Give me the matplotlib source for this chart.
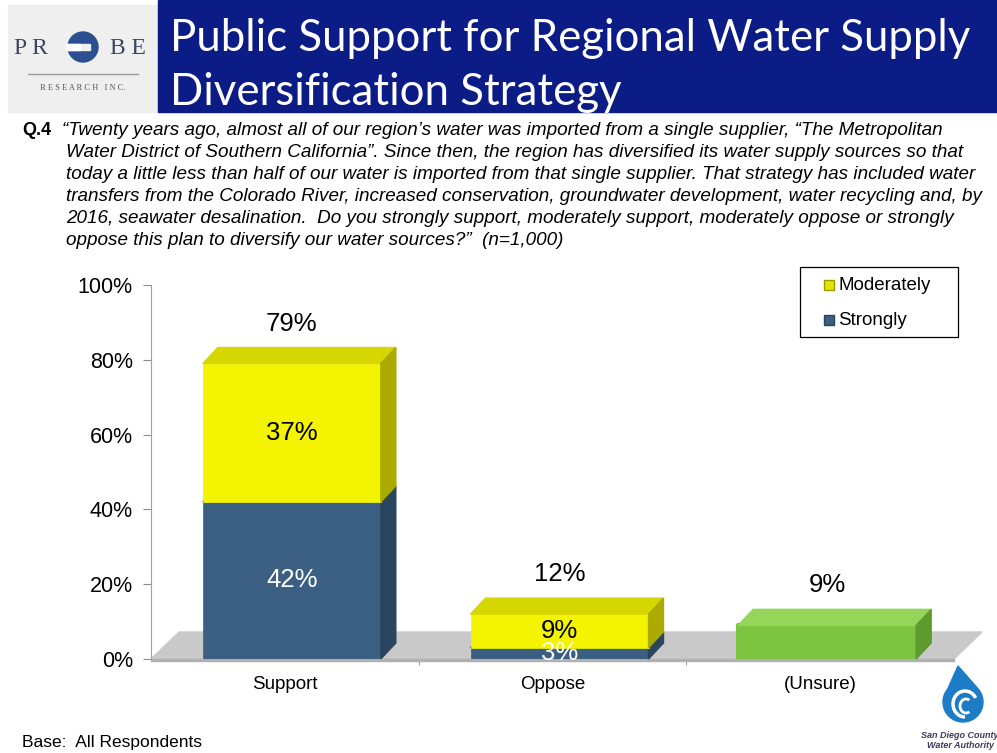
import numpy as np
import matplotlib
matplotlib.use("Agg")
import matplotlib.pyplot as plt
from matplotlib.patches import Polygon, Rectangle, Circle, Arc

plt.rcParams['font.family'] = ['Liberation Sans', 'DejaVu Sans']

# survey results (percent of respondents)
categories = ['Support', 'Oppose', '(Unsure)']
strongly = [42, 3, 0]
moderately = [37, 9, 0]
unsure = [0, 0, 9]
totals = [79, 12, 9]

question = [
    "\u201cTwenty years ago, almost all of our region\u2019s water was imported from a single supplier, \u201cThe Metropolitan",
    "Water District of Southern California\u201d. Since then, the region has diversified its water supply sources so that",
    "today a little less than half of our water is imported from that single supplier. That strategy has included water",
    "transfers from the Colorado River, increased conservation, groundwater development, water recycling and, by",
    "2016, seawater desalination.  Do you strongly support, moderately support, moderately oppose or strongly",
    "oppose this plan to diversify our water sources?\u201d  (n=1,000)",
]

W, H = 997, 753
fig = plt.figure(figsize=(W / 100, H / 100), dpi=100)

# background layer in pixel units: header, logos, question text, legend
bg = fig.add_axes([0, 0, 1, 1], zorder=0)
bg.set_xlim(0, W)
bg.set_ylim(H, 0)
bg.axis('off')

bg.add_patch(Rectangle((8, 5), 150, 107, color='#efefef'))
bg.add_patch(Rectangle((158, 0), W - 158, 112, color='#0c1c86'))
bg.text(170, 51, 'Public Support for Regional Water Supply', color='white',
        fontsize=31.5, family='Lato', va='baseline')
bg.text(170, 105, 'Diversification Strategy', color='white',
        fontsize=31.5, family='Lato', va='baseline')

# Probe Research logo
bg.text(14, 48, 'P R', family='Liberation Serif', fontsize=17, color='#3d4560', va='center')
bg.text(110, 48, 'B E', family='Liberation Serif', fontsize=17, color='#3d4560', va='center')
bg.add_patch(Circle((83, 47), 15, color='#2b4f90'))
bg.add_patch(Rectangle((66, 44), 24, 6, color='#efefef'))
bg.add_patch(Rectangle((66, 44), 14, 6, color='white'))
bg.plot([28, 138], [74, 74], color='#9a9a9a', lw=1)
bg.text(83, 88, 'R E S E A R C H   I N C.', family='Liberation Serif', fontsize=6,
        color='#555555', ha='center', va='center')

# question text
bg.text(22, 130, 'Q.4', fontsize=13, weight='bold', va='center')
for i, line in enumerate(question):
    bg.text(62 if i == 0 else 66, 130 + 22 * i, line, fontsize=13.6,
            style='italic', va='center')

bg.text(22, 742, 'Base:  All Respondents', fontsize=12.5, va='center')

# Water Authority logo
cx, cy, r = 963, 702, 20
a = np.radians(np.linspace(-40, 220, 60))
drop = np.column_stack([cx + r * np.cos(a), cy + r * np.sin(a)])
drop = np.vstack([drop, [[cx - 5, cy - 36]]])
bg.add_patch(Polygon(drop, closed=True, color='#1c7cc6'))
bg.add_patch(Arc((965, 704), 24, 26, theta1=90, theta2=330, color='white', lw=2.5))
bg.add_patch(Arc((966, 706), 12, 14, theta1=60, theta2=300, color='white', lw=2))
bg.text(960, 736, 'San Diego County', fontsize=6.5, weight='bold', style='italic',
        color='#3b3b5c', ha='center', va='center')
bg.text(960, 746, 'Water Authority', fontsize=6.5, weight='bold', style='italic',
        color='#3b3b5c', ha='center', va='center')

# legend box
legend_items = [('Moderately', '#e6e600', '#9a9a00'), ('Strongly', '#3a5f82', '#2a4560')]
bg.add_patch(Rectangle((800, 267), 158, 70, facecolor='white', edgecolor='black', lw=0.9))
for k, (name, fc, ec) in enumerate(legend_items):
    y = 285 + 35 * k
    bg.add_patch(Rectangle((824, y - 5), 10, 10, facecolor=fc, edgecolor=ec, lw=1))
    bg.text(838, y, name, fontsize=13.5, va='center')

# chart
ax = fig.add_axes([151 / W, 94 / H, 803 / W, 374 / H], zorder=1)
ax.patch.set_visible(False)
ax.set_xlim(-0.5, 2.5)
ax.set_ylim(0, 100)

px_x = 803 / 3      # pixels per category
px_y = 374 / 100    # pixels per percent
dx, dy = 15 / px_x, 16 / px_y
shift = 7 / px_x
width = 178 / px_x

# floor
fdx, fdy = 28 / px_x, 27 / px_y
ax.add_patch(Polygon([(-0.5, 0), (2.5, 0), (2.5 + fdx, fdy), (-0.5 + fdx, fdy)],
                     color='#c9c9c9', zorder=2, clip_on=False))
ax.add_patch(Polygon([(-0.5, 0), (2.5, 0), (2.5, -0.5), (-0.5, -0.5)],
                     color='#b0b0b0', zorder=2, clip_on=False))


def box(x, bottom, height, front, top, side, rounded=False):
    ax.bar(x, height, width, bottom=bottom, color=front, edgecolor=front,
           linewidth=3 if rounded else 0.5, joinstyle='round', zorder=3)
    x0, x1 = x - width / 2, x + width / 2
    y0, y1 = bottom, bottom + height
    ax.add_patch(Polygon([(x0, y1), (x1, y1), (x1 + dx, y1 + dy), (x0 + dx, y1 + dy)],
                         color=top, zorder=3, clip_on=False))
    ax.add_patch(Polygon([(x1, y0), (x1, y1), (x1 + dx, y1 + dy), (x1 + dx, y0 + dy)],
                         color=side, zorder=3, clip_on=False))


xs = np.arange(len(categories)) + shift
for i, x in enumerate(xs):
    if strongly[i]:
        box(x, 0, strongly[i], '#3a5f82', '#44709a', '#2a4560')
        ax.text(x, strongly[i] / 2, f'{strongly[i]}%', color='white',
                fontsize=18.5, ha='center', va='center', zorder=5)
    if moderately[i]:
        box(x, strongly[i], moderately[i], '#f4f400', '#d6d600', '#aaaa00')
        ax.text(x, strongly[i] + moderately[i] / 2, f'{moderately[i]}%',
                fontsize=18.5, ha='center', va='center', zorder=5)
    if unsure[i]:
        box(x, 0, unsure[i], '#7dc540', '#95d65a', '#5d9b2e', rounded=True)
    ax.annotate(f'{totals[i]}%', (x, totals[i]), xytext=(0, 40),
                textcoords='offset pixels', fontsize=18.5, ha='center', va='center')

ax.set_yticks(range(0, 101, 20))
ax.set_yticklabels([f'{v}%' for v in range(0, 101, 20)])
ax.tick_params(axis='y', length=6, color='#8c8c8c', labelsize=15.5, pad=7)
ax.set_xticks(range(len(categories)))
ax.set_xticklabels(categories)
ax.set_xticks([0.5, 1.5], minor=True)
ax.tick_params(axis='x', which='major', length=0, pad=12, labelsize=13.5)
ax.tick_params(axis='x', which='minor', length=4, color='#8c8c8c')
for s in ['top', 'right', 'bottom']:
    ax.spines[s].set_visible(False)
ax.spines['left'].set_color('#a0a0a0')

fig.savefig('out.png', dpi=100)
